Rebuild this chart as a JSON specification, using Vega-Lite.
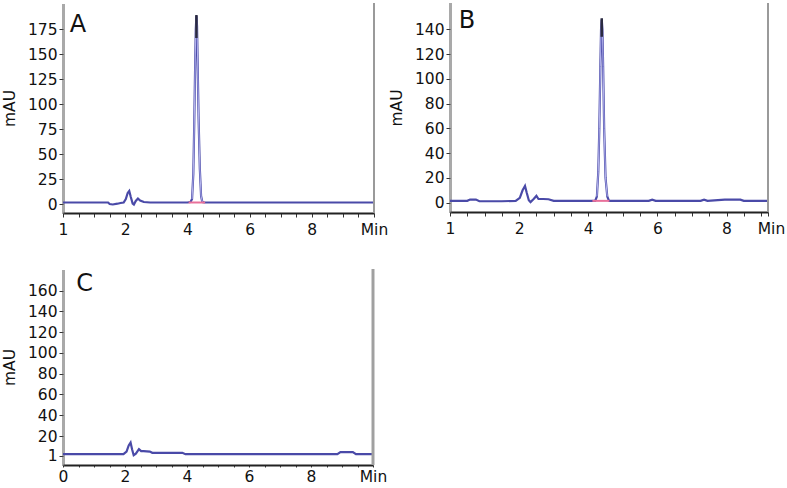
{
  "$schema": "https://vega.github.io/schema/vega-lite/v6.json",
  "padding": {"left": 2, "top": 2, "right": 0, "bottom": 0},
  "background": "white",
  "bounds": "flush",
  "columns": 2,
  "spacing": {"column": 76, "row": 56},
  "config": {
    "view": {"stroke": null},
    "font": "DejaVu Sans",
    "axis": {"grid": false, "labelFont": "DejaVu Sans", "labelFontSize": 15.5, "labelColor": "#111", "titleFont": "DejaVu Sans", "titleFontSize": 15.5, "titleFontWeight": "normal", "titleColor": "#111", "tickColor": "#333", "labelOverlap": false, "tickCount": 100},
    "axisX": {"domainColor": "#222", "domainWidth": 2, "tickSize": 4, "labelPadding": 5, "labelFlush": false},
    "axisY": {"domainColor": "#555", "domainWidth": 3, "domainDash": [1, 1], "tickSize": 4, "labelPadding": 2, "titlePadding": 10}
  },
  "datasets": {
    "A": [
      {"t": 0, "v": 1.5}, {"t": 1.0, "v": 1.5}, {"t": 1.45, "v": 1.5}, {"t": 1.5, "v": 0}, {"t": 1.6, "v": -0.5}, {"t": 1.75, "v": 0.3}, {"t": 1.85, "v": 1}, {"t": 1.95, "v": 1.5}, {"t": 2.02, "v": 5}, {"t": 2.08, "v": 11}, {"t": 2.13, "v": 13}, {"t": 2.18, "v": 7}, {"t": 2.24, "v": 0.5}, {"t": 2.28, "v": -0.5}, {"t": 2.34, "v": 3}, {"t": 2.41, "v": 5.5}, {"t": 2.48, "v": 3.5}, {"t": 2.6, "v": 2}, {"t": 2.8, "v": 1.5}, {"t": 4.0, "v": 1.5}, {"t": 4.1, "v": 2}, {"t": 4.15, "v": 5}, {"t": 4.19, "v": 30}, {"t": 4.22, "v": 80}, {"t": 4.25, "v": 140}, {"t": 4.27, "v": 175}, {"t": 4.29, "v": 188}, {"t": 4.31, "v": 178}, {"t": 4.33, "v": 140}, {"t": 4.36, "v": 85}, {"t": 4.4, "v": 35}, {"t": 4.44, "v": 8}, {"t": 4.48, "v": 2}, {"t": 4.55, "v": 1.5}, {"t": 10, "v": 1.5}
    ],
    "B": [
      {"t": 0, "v": 1.5}, {"t": 0.5, "v": 1.5}, {"t": 0.58, "v": 2.5}, {"t": 0.75, "v": 2.5}, {"t": 0.85, "v": 1.2}, {"t": 1.5, "v": 1.2}, {"t": 1.9, "v": 1.5}, {"t": 2.02, "v": 4}, {"t": 2.1, "v": 10}, {"t": 2.17, "v": 13.5}, {"t": 2.22, "v": 8}, {"t": 2.28, "v": 2}, {"t": 2.33, "v": 0.5}, {"t": 2.42, "v": 3}, {"t": 2.5, "v": 5.5}, {"t": 2.56, "v": 3}, {"t": 2.7, "v": 3}, {"t": 2.85, "v": 2.8}, {"t": 3.0, "v": 1.5}, {"t": 4.2, "v": 1.5}, {"t": 4.25, "v": 5}, {"t": 4.29, "v": 25}, {"t": 4.32, "v": 60}, {"t": 4.35, "v": 110}, {"t": 4.37, "v": 140}, {"t": 4.39, "v": 148}, {"t": 4.41, "v": 140}, {"t": 4.43, "v": 110}, {"t": 4.46, "v": 60}, {"t": 4.5, "v": 20}, {"t": 4.55, "v": 5}, {"t": 4.6, "v": 1.5}, {"t": 5.75, "v": 1.5}, {"t": 5.85, "v": 2.5}, {"t": 5.95, "v": 1.5}, {"t": 7.25, "v": 1.5}, {"t": 7.35, "v": 2.5}, {"t": 7.45, "v": 1.5}, {"t": 7.95, "v": 2.5}, {"t": 8.4, "v": 2.5}, {"t": 8.5, "v": 1.5}, {"t": 9.2, "v": 1.5}
    ],
    "C": [
      {"t": 0, "v": 2.5}, {"t": 1.95, "v": 2.5}, {"t": 2.05, "v": 5}, {"t": 2.12, "v": 11}, {"t": 2.18, "v": 13.8}, {"t": 2.23, "v": 7}, {"t": 2.28, "v": 1.5}, {"t": 2.35, "v": 3}, {"t": 2.45, "v": 7.4}, {"t": 2.52, "v": 5.5}, {"t": 2.6, "v": 5.5}, {"t": 2.8, "v": 5}, {"t": 2.88, "v": 3.8}, {"t": 3.85, "v": 3.8}, {"t": 3.95, "v": 2.5}, {"t": 8.85, "v": 2.5}, {"t": 8.95, "v": 4.5}, {"t": 9.35, "v": 4.5}, {"t": 9.45, "v": 2.5}, {"t": 10, "v": 2.5}
    ]
  },
  "concat": [
    {
      "width": 311, "height": 210,
      "layer": [
        {
          "data": {"name": "A"},
          "mark": {"type": "line", "color": "#4a4aa8", "strokeWidth": 2.2},
          "encoding": {
            "x": {"field": "t", "type": "quantitative", "scale": {"domain": [0, 10], "nice": false, "zero": false},
                  "axis": {"title": null, "tickCount": 100, "labelOverlap": false, "values": [0,0.5,1,1.5,2,2.5,3,3.5,4,4.5,5,5.5,6,6.5,7,7.5,8,8.5,9,9.5,10], "labelExpr": "datum.value == 0 ? '1' : datum.value == 10 ? 'Min' : (datum.value % 2 == 0 ? '' + datum.value : '')"}},
            "y": {"field": "v", "type": "quantitative", "scale": {"domain": [-9, 201], "nice": false, "zero": false},
                  "axis": {"title": "mAU", "tickCount": 100, "labelOverlap": false, "values": [0,25,50,75,100,125,150,175]}}
          }
        },
        {
          "data": {"name": "A"},
          "transform": [{"filter": "datum.t >= 4.15 && datum.t <= 4.48"}],
          "mark": {"type": "line", "color": "#b4b4ee", "strokeWidth": 1},
          "encoding": {"x": {"field": "t", "type": "quantitative"}, "y": {"field": "v", "type": "quantitative"}}
        },
        {
          "data": {"values": [{}]},
          "mark": {"type": "rule", "color": "#e8709a", "strokeWidth": 2},
          "encoding": {"x": {"datum": 4.04, "type": "quantitative"}, "x2": {"datum": 4.57}, "y": {"datum": 1.5, "type": "quantitative"}}
        },
        {
          "data": {"values": [{}]},
          "mark": {"type": "rule", "color": "#2a2a40", "strokeWidth": 2.5},
          "encoding": {"x": {"datum": 4.29, "type": "quantitative"}, "y": {"datum": 166, "type": "quantitative"}, "y2": {"datum": 189}}
        },
        {
          "data": {"values": [{}]},
          "mark": {"type": "rule", "color": "#9a9a9a", "strokeWidth": 2},
          "encoding": {"x": {"datum": 10, "type": "quantitative"}}
        },
        {
          "data": {"values": [{}]},
          "mark": {"type": "text", "text": "A", "font": "DejaVu Sans", "fontSize": 24, "align": "left", "baseline": "alphabetic", "color": "#111"},
          "encoding": {"x": {"datum": 0.22, "type": "quantitative"}, "y": {"datum": 172, "type": "quantitative"}}
        }
      ]
    },
    {
      "width": 318, "height": 209,
      "layer": [
        {
          "data": {"name": "B"},
          "mark": {"type": "line", "color": "#4a4aa8", "strokeWidth": 2.2},
          "encoding": {
            "x": {"field": "t", "type": "quantitative", "scale": {"domain": [0, 9.2], "nice": false, "zero": false},
                  "axis": {"title": null, "tickCount": 100, "labelOverlap": false, "values": [0,0.5,1,1.5,2,2.5,3,3.5,4,4.5,5,5.5,6,6.5,7,7.5,8,8.5,9,9.2], "labelExpr": "datum.value == 0 ? '1' : datum.value == 9.2 ? 'Min' : (datum.value % 2 == 0 ? '' + datum.value : '')",
                           "labelOffset": {"condition": {"test": "datum.value == 9.2", "value": 3}, "value": 0}}},
            "y": {"field": "v", "type": "quantitative", "scale": {"domain": [-7.5, 161.3], "nice": false, "zero": false},
                  "axis": {"title": "mAU", "tickCount": 100, "labelOverlap": false, "values": [0,20,40,60,80,100,120,140]}}
          }
        },
        {
          "data": {"name": "B"},
          "transform": [{"filter": "datum.t >= 4.25 && datum.t <= 4.55"}],
          "mark": {"type": "line", "color": "#b4b4ee", "strokeWidth": 1},
          "encoding": {"x": {"field": "t", "type": "quantitative"}, "y": {"field": "v", "type": "quantitative"}}
        },
        {
          "data": {"values": [{}]},
          "mark": {"type": "rule", "color": "#e8709a", "strokeWidth": 2},
          "encoding": {"x": {"datum": 4.12, "type": "quantitative"}, "x2": {"datum": 4.61}, "y": {"datum": 1.5, "type": "quantitative"}}
        },
        {
          "data": {"values": [{}]},
          "mark": {"type": "rule", "color": "#2a2a40", "strokeWidth": 2.5},
          "encoding": {"x": {"datum": 4.39, "type": "quantitative"}, "y": {"datum": 134, "type": "quantitative"}, "y2": {"datum": 149}}
        },
        {
          "data": {"values": [{}]},
          "mark": {"type": "rule", "color": "#9a9a9a", "strokeWidth": 2},
          "encoding": {"x": {"datum": 9.2, "type": "quantitative"}}
        },
        {
          "data": {"values": [{}]},
          "mark": {"type": "text", "text": "B", "font": "DejaVu Sans", "fontSize": 24, "align": "left", "baseline": "alphabetic", "color": "#111"},
          "encoding": {"x": {"datum": 0.25, "type": "quantitative"}, "y": {"datum": 141, "type": "quantitative"}}
        }
      ]
    },
    {
      "width": 310, "height": 196,
      "layer": [
        {
          "data": {"name": "C"},
          "mark": {"type": "line", "color": "#4a4aa8", "strokeWidth": 2.2},
          "encoding": {
            "x": {"field": "t", "type": "quantitative", "scale": {"domain": [0, 10], "nice": false, "zero": false},
                  "axis": {"title": null, "tickCount": 100, "labelOverlap": false, "tickSize": 2, "labelPadding": 2, "values": [0,0.5,1,1.5,2,2.5,3,3.5,4,4.5,5,5.5,6,6.5,7,7.5,8,8.5,9,9.5,10], "labelExpr": "datum.value == 10 ? 'Min' : (datum.value % 2 == 0 ? '' + datum.value : '')"}},
            "y": {"field": "v", "type": "quantitative", "scale": {"domain": [-7.9, 180.8], "nice": false, "zero": false},
                  "axis": {"title": "mAU", "tickCount": 100, "labelOverlap": false, "values": [1,20,40,60,80,100,120,140,160]}}
          }
        },
        {
          "data": {"values": [{}]},
          "mark": {"type": "rule", "color": "#a0a0a0", "strokeWidth": 3},
          "encoding": {"x": {"datum": 10, "type": "quantitative"}}
        },
        {
          "data": {"values": [{}]},
          "mark": {"type": "text", "text": "C", "font": "DejaVu Sans", "fontSize": 24, "align": "left", "baseline": "alphabetic", "color": "#111"},
          "encoding": {"x": {"datum": 0.43, "type": "quantitative"}, "y": {"datum": 159.7, "type": "quantitative"}}
        }
      ]
    }
  ]
}
